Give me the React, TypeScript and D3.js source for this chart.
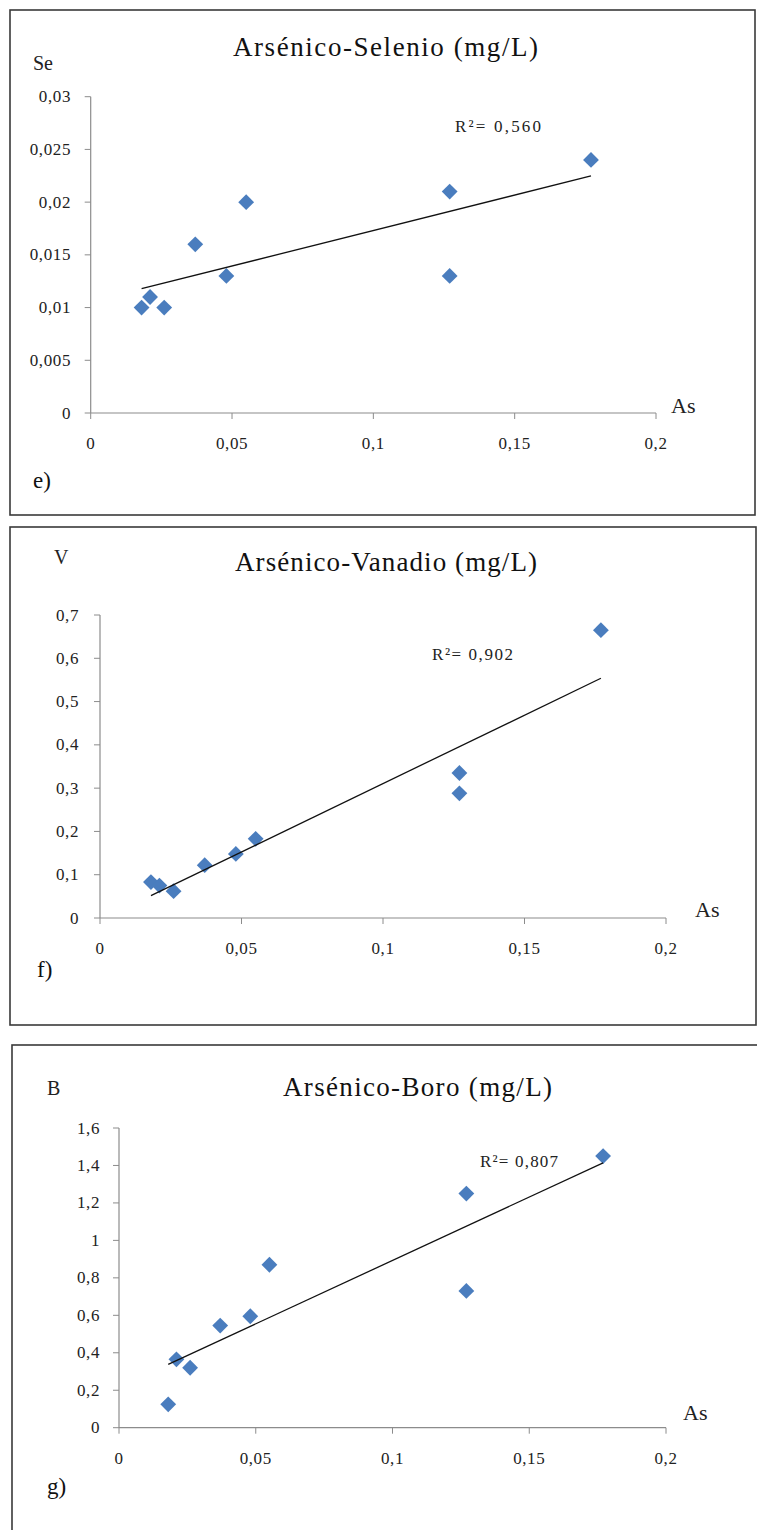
import React from "react";
import * as d3 from "d3";

// ---- data ----
const asValues = [0.018, 0.021, 0.026, 0.037, 0.048, 0.055, 0.127, 0.127, 0.177];
const seValues = [0.010, 0.011, 0.010, 0.016, 0.013, 0.020, 0.021, 0.013, 0.024];
const vValues = [0.083, 0.075, 0.062, 0.122, 0.148, 0.183, 0.335, 0.288, 0.665];
const bValues = [0.125, 0.365, 0.32, 0.545, 0.595, 0.87, 1.25, 0.73, 1.45];

const xTicks = [0, 0.05, 0.1, 0.15, 0.2];
const seTicks = [0, 0.005, 0.01, 0.015, 0.02, 0.025, 0.03];
const vTicks = [0, 0.1, 0.2, 0.3, 0.4, 0.5, 0.6, 0.7];
const bTicks = [0, 0.2, 0.4, 0.6, 0.8, 1, 1.2, 1.4, 1.6];

const titles = ["Arsénico-Selenio (mg/L)", "Arsénico-Vanadio (mg/L)", "Arsénico-Boro (mg/L)"];
const yNames = ["Se", "V", "B"];
const r2Labels = ["R²= 0,560", "R²= 0,902", "R²= 0,807"];
const panelLabels = ["e)", "f)", "g)"];
const xName = "As";

const fmt = (v: number) => String(+v.toFixed(4)).replace(".", ",");

// ---- layout ----
const panels = [
  {
    y: seValues, ticks: seTicks,
    frame: { x: 10, y: 10, w: 745, h: 505 },
    px: [90.7, 656], py: [413, 96.7],
    title: { cx: 385.5, y: 56, len: 305 },
    yName: { x: 33, y: 70 },
    as: { x: 671, y: 413 },
    r2: { x: 455, y: 132, len: 86 },
    label: { x: 33, y: 488 },
    xLabY: 449, yLabX: 71,
  },
  {
    y: vValues, ticks: vTicks,
    frame: { x: 10, y: 527, w: 746, h: 498 },
    px: [100, 666], py: [918, 615],
    title: { cx: 386, y: 571, len: 302 },
    yName: { x: 54, y: 564 },
    as: { x: 695, y: 917 },
    r2: { x: 432, y: 660, len: 81 },
    label: { x: 37, y: 977 },
    xLabY: 954, yLabX: 79,
  },
  {
    y: bValues, ticks: bTicks,
    frame: { x: 12, y: 1045, w: 760, h: 500 },
    px: [119, 666], py: [1427.7, 1128],
    title: { cx: 417.5, y: 1096, len: 269 },
    yName: { x: 47, y: 1095 },
    as: { x: 683, y: 1420 },
    r2: { x: 480, y: 1167, len: 78 },
    label: { x: 47, y: 1494 },
    xLabY: 1464, yLabX: 100,
  },
];

const FONT = "Liberation Serif";
const AXIS = "#8c8c8c";
const BLUE = "#4a7dbe";

function regression(xs: number[], ys: number[]) {
  const mx = d3.mean(xs)!;
  const my = d3.mean(ys)!;
  let sxy = 0, sxx = 0;
  xs.forEach((x, i) => {
    sxy += (x - mx) * (ys[i] - my);
    sxx += (x - mx) * (x - mx);
  });
  const slope = sxy / sxx;
  return { slope, intercept: my - slope * mx };
}

function Panel({ p, i }: { p: any; i: number }) {
  const x = d3.scaleLinear().domain([0, 0.2]).range(p.px);
  const y = d3.scaleLinear().domain([0, p.ticks[p.ticks.length - 1]]).range(p.py);
  const reg = regression(asValues, p.y);
  const xMin = d3.min(asValues)!;
  const xMax = d3.max(asValues)!;
  const line = d3.line<number>().x((d) => x(d)).y((d) => y(reg.intercept + reg.slope * d));
  const diamond = d3.symbol().type(d3.symbolSquare).size(125)();
  return (
    <g>
      <rect x={p.frame.x} y={p.frame.y} width={p.frame.w} height={p.frame.h}
        fill="#fff" stroke="#3a3a3a" strokeWidth={1.6} />
      <text x={p.title.cx} y={p.title.y} textAnchor="middle" fontFamily={FONT} fontSize={27}
        fill="#111" textLength={p.title.len} lengthAdjust="spacing">{titles[i]}</text>
      <text x={p.yName.x} y={p.yName.y} fontFamily={FONT} fontSize={20} fill="#222">{yNames[i]}</text>
      {/* y axis */}
      <line x1={p.px[0]} x2={p.px[0]} y1={y(0)} y2={y(p.ticks[p.ticks.length - 1])} stroke={AXIS} strokeWidth={1.2} />
      {p.ticks.map((t: number) => (
        <g key={"y" + t}>
          <line x1={p.px[0] - 6} x2={p.px[0]} y1={y(t)} y2={y(t)} stroke={AXIS} strokeWidth={1} />
          <text x={p.yLabX} y={y(t) + 5.5} textAnchor="end" fontFamily={FONT} fontSize={17}
            letterSpacing={0.6} fill="#222">{fmt(t)}</text>
        </g>
      ))}
      {/* x axis */}
      <line x1={x(0)} x2={x(0.2)} y1={y(0)} y2={y(0)} stroke={AXIS} strokeWidth={1.2} />
      {xTicks.map((t) => (
        <g key={"x" + t}>
          <line x1={x(t)} x2={x(t)} y1={y(0)} y2={y(0) + 6} stroke={AXIS} strokeWidth={1} />
          <text x={x(t)} y={p.xLabY} textAnchor="middle" fontFamily={FONT} fontSize={17}
            letterSpacing={0.6} fill="#222">{fmt(t)}</text>
        </g>
      ))}
      <text x={p.as.x} y={p.as.y} fontFamily={FONT} fontSize={22} fill="#222">{xName}</text>
      {/* points */}
      {asValues.map((a, k) => (
        <path key={k} d={diamond!} transform={`translate(${x(a)},${y(p.y[k])}) rotate(45)`} fill={BLUE} />
      ))}
      {/* trend line */}
      <path d={line([xMin, xMax])!} stroke="#111" strokeWidth={1.3} fill="none" />
      <text x={p.r2.x} y={p.r2.y} fontFamily={FONT} fontSize={17} fill="#222"
        textLength={p.r2.len} lengthAdjust="spacing">{r2Labels[i]}</text>
      <text x={p.label.x} y={p.label.y} fontFamily={FONT} fontSize={23} fill="#111">{panelLabels[i]}</text>
    </g>
  );
}

export default function App() {
  return (
    <svg width={757} height={1530} style={{ position: "absolute", left: 0, top: 0, background: "#fff" }}>
      <rect x={0} y={0} width={757} height={1530} fill="#fff" />
      {panels.map((p, i) => (
        <Panel key={i} p={p} i={i} />
      ))}
    </svg>
  );
}
